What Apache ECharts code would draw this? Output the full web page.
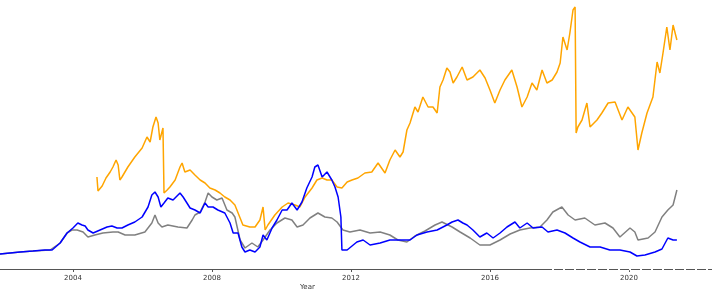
<!DOCTYPE html>
<html>
<head>
<meta charset="utf-8">
<script src="https://cdn.jsdelivr.net/npm/echarts@6/dist/echarts.min.js"></script>
<style>html,body{margin:0;padding:0;background:#fff}#c{width:712px;height:294px}</style>
</head>
<body>
<div id="c"></div>
<script>
const xTicks = [2004, 2008, 2012, 2016, 2020];
const xMin = 2001.90, xMax = 2022.39;

const blueYears = [2001.90,2002.19,2002.48,2002.85,2003.19,2003.40,2003.63,2003.83,2004.00,2004.14,2004.26,2004.35,2004.43,2004.58,2004.78,2004.98,2005.12,2005.27,2005.41,2005.58,2005.78,2005.99,2006.16,2006.27,2006.36,2006.45,2006.53,2006.62,2006.73,2006.88,2007.08,2007.17,2007.28,2007.37,2007.51,2007.66,2007.80,2007.89,2008.03,2008.17,2008.37,2008.52,2008.61,2008.75,2008.86,2008.95,2009.09,2009.24,2009.38,2009.47,2009.58,2009.73,2009.87,2010.02,2010.16,2010.30,2010.45,2010.59,2010.73,2010.88,2010.96,2011.05,2011.17,2011.31,2011.45,2011.54,2011.63,2011.71,2011.74,2011.89,2012.03,2012.17,2012.35,2012.55,2012.84,2013.12,2013.41,2013.70,2013.90,2014.19,2014.48,2014.76,2014.91,2015.08,2015.22,2015.34,2015.51,2015.71,2015.91,2016.09,2016.29,2016.49,2016.72,2016.86,2017.07,2017.24,2017.50,2017.67,2017.93,2018.16,2018.39,2018.59,2018.88,2019.17,2019.45,2019.74,2020.03,2020.23,2020.46,2020.75,2020.95,2021.12,2021.27,2021.38];
const blueValues = [15,16,17,18,19,19,26,36,41,46,44,43,39,36,39,42,43,41,41,44,47,52,62,74,77,72,62,66,71,69,76,72,66,61,59,56,66,62,62,59,56,46,36,36,22,17,19,17,22,34,29,41,49,59,59,66,59,67,81,92,102,104,92,97,89,82,72,52,19,19,23,27,29,24,26,29,29,29,34,37,39,44,47,49,46,44,39,32,36,31,36,42,47,41,46,41,42,37,39,36,31,27,22,22,19,19,17,13,14,17,20,31,29,29];

const grayYears = [2001.90,2002.48,2002.85,2003.34,2003.63,2003.83,2003.97,2004.12,2004.29,2004.43,2004.63,2004.86,2005.15,2005.30,2005.50,2005.78,2006.07,2006.27,2006.36,2006.45,2006.56,2006.73,2007.02,2007.28,2007.43,2007.51,2007.66,2007.80,2007.89,2008.00,2008.14,2008.29,2008.43,2008.58,2008.66,2008.81,2008.95,2009.15,2009.32,2009.47,2009.67,2009.87,2010.10,2010.30,2010.45,2010.62,2010.82,2011.05,2011.25,2011.45,2011.60,2011.77,2011.97,2012.26,2012.55,2012.84,2013.12,2013.35,2013.61,2013.84,2014.13,2014.42,2014.62,2014.91,2015.14,2015.43,2015.71,2016.00,2016.29,2016.58,2016.86,2017.15,2017.44,2017.64,2017.81,2018.07,2018.25,2018.45,2018.73,2019.02,2019.31,2019.54,2019.74,2020.03,2020.17,2020.26,2020.55,2020.75,2020.95,2021.12,2021.27,2021.38];
const grayValues = [15,17,18,19,26,36,39,39,37,32,34,36,37,37,34,34,37,46,54,46,42,44,42,41,49,54,57,67,76,72,69,71,59,56,52,29,21,26,22,29,39,46,51,49,42,44,51,56,52,51,47,39,37,39,36,37,34,29,27,33,38,44,47,42,37,31,24,24,29,35,39,41,42,49,57,62,54,49,51,44,46,41,32,41,37,29,31,37,52,59,64,79];

const orangeYears = [2004.69,2004.72,2004.84,2004.95,2005.07,2005.15,2005.24,2005.30,2005.35,2005.41,2005.58,2005.78,2005.99,2006.13,2006.22,2006.30,2006.39,2006.45,2006.50,2006.56,2006.59,2006.62,2006.71,2006.79,2006.94,2007.08,2007.14,2007.22,2007.37,2007.51,2007.66,2007.80,2007.94,2008.09,2008.23,2008.37,2008.52,2008.66,2008.81,2008.89,2009.09,2009.24,2009.38,2009.47,2009.53,2009.61,2009.81,2010.02,2010.19,2010.39,2010.53,2010.68,2010.88,2011.02,2011.17,2011.31,2011.45,2011.60,2011.74,2011.89,2012.03,2012.20,2012.40,2012.60,2012.78,2012.98,2013.12,2013.27,2013.41,2013.50,2013.61,2013.70,2013.84,2013.93,2014.07,2014.22,2014.36,2014.48,2014.56,2014.65,2014.76,2014.85,2014.94,2015.05,2015.20,2015.34,2015.51,2015.71,2015.86,2016.00,2016.14,2016.29,2016.43,2016.63,2016.78,2016.92,2017.07,2017.21,2017.35,2017.50,2017.64,2017.79,2017.93,2018.02,2018.10,2018.22,2018.30,2018.39,2018.45,2018.48,2018.53,2018.65,2018.79,2018.88,2019.08,2019.22,2019.40,2019.60,2019.80,2019.97,2020.17,2020.26,2020.37,2020.52,2020.69,2020.81,2020.89,2020.98,2021.09,2021.18,2021.27,2021.38];
const orangeValues = [92,78,83,91,97,102,109,104,89,92,102,112,121,132,127,142,152,146,129,137,141,76,79,82,89,102,106,97,99,94,89,86,81,79,76,72,69,64,51,44,42,42,49,62,39,44,54,62,66,64,62,72,81,89,91,89,89,82,81,87,89,91,96,97,106,96,109,119,112,117,139,146,162,157,172,162,162,156,182,189,201,197,186,192,202,189,192,199,191,179,166,179,189,199,182,162,172,186,179,199,186,189,197,206,232,219,236,259,262,136,142,149,166,142,149,156,166,167,149,162,152,119,136,156,172,207,196,216,242,219,244,229];

function pairs(xs, ys) { return xs.map((x, i) => [x, ys[i]]); }

const chart = echarts.init(document.getElementById('c'), null, {renderer: 'canvas'});
chart.setOption({
  animation: false,
  backgroundColor: '#ffffff',
  grid: { left: 0, right: 0, top: 0, bottom: 25, containLabel: false },
  xAxis: {
    type: 'value', min: xMin, max: xMax,
    splitLine: { show: false },
    axisLine: { show: true, lineStyle: { color: '#555555', width: 1 } },
    axisTick: { show: true, inside: false, length: 3, customValues: xTicks, lineStyle: { color: '#555555' } },
    axisLabel: { show: true, margin: 6, fontSize: 7, color: '#333333', fontFamily: 'DejaVu Sans', customValues: xTicks, formatter: v => String(v) }
  },
  yAxis: { type: 'value', min: 0, max: 269, show: false },
  graphic: [{
    type: 'text', left: 300, top: 284,
    style: { text: 'Year', fontSize: 7, fill: '#333333', fontFamily: 'DejaVu Sans' }
  }, {
    type: 'line', z: 100,
    shape: { x1: 552, y1: 269.5, x2: 712, y2: 269.5 },
    style: { stroke: '#ffffff', lineWidth: 1.5, lineDash: [2, 9] }
  }],
  series: [
    { type: 'line', data: pairs(orangeYears, orangeValues), showSymbol: false, lineStyle: { color: '#FFA500', width: 1.5 }, itemStyle: { color: '#FFA500' } },
    { type: 'line', data: pairs(grayYears, grayValues), showSymbol: false, lineStyle: { color: '#808080', width: 1.5 }, itemStyle: { color: '#808080' } },
    { type: 'line', data: pairs(blueYears, blueValues), showSymbol: false, lineStyle: { color: '#0000FF', width: 1.5 }, itemStyle: { color: '#0000FF' } }
  ]
});
</script>
</body>
</html>
